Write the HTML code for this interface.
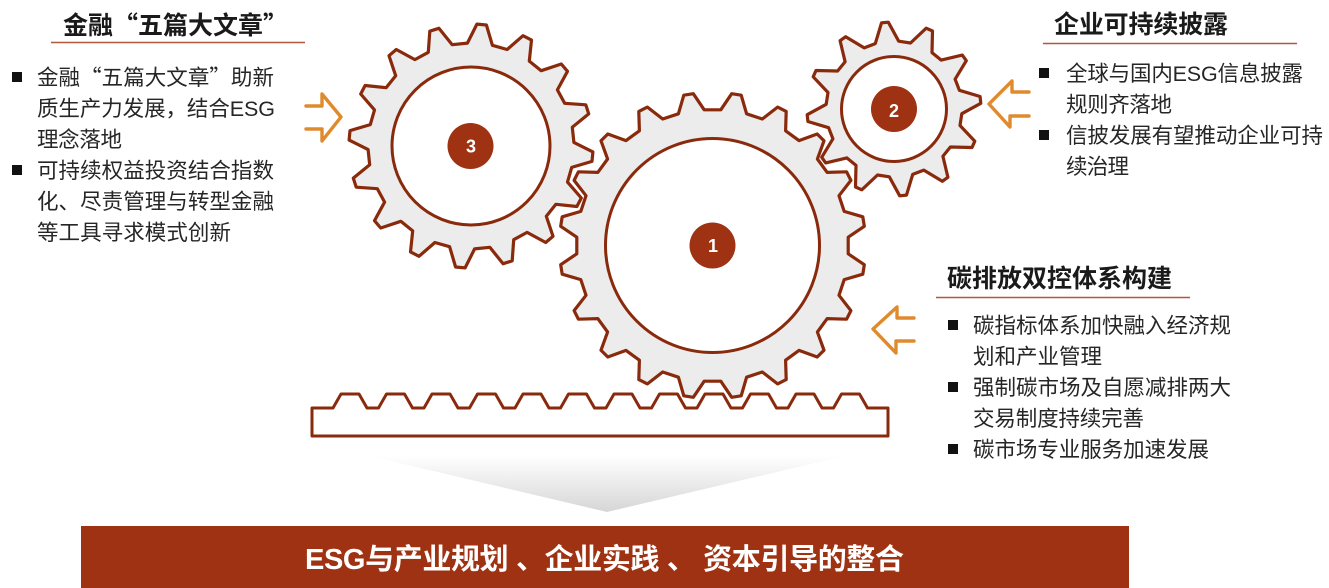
<!DOCTYPE html>
<html lang="zh-CN">
<head>
<meta charset="utf-8">
<style>
html,body{margin:0;padding:0;background:#fff;width:1329px;height:588px;overflow:hidden}
svg{display:block}
text{font-family:"Liberation Sans","Noto Sans CJK SC",sans-serif;fill:#262626;font-size:21.5px}
.q{font-family:"Noto Sans CJK SC","Liberation Sans",sans-serif}
.t{font-size:25px;font-weight:700;fill:#1a1a1a}
.g{fill:#ececec;stroke:#8a2a0c;stroke-width:3.2;stroke-linejoin:round}
.c{fill:#fff;stroke:#8a2a0c;stroke-width:3}
.b{fill:#9e3212}
.n{fill:#fff;font-size:18px;font-weight:700;text-anchor:middle}
.a{fill:none;stroke:#e08a2e;stroke-width:3.4;stroke-linejoin:round;stroke-linecap:round}
.u{stroke:#b5573f;stroke-width:1.6}
.s{fill:#111}
</style>
</head>
<body>
<svg width="1329" height="588" viewBox="0 0 1329 588" xmlns="http://www.w3.org/2000/svg">
<defs>
<linearGradient id="fade" x1="0" y1="0" x2="0" y2="1">
<stop offset="0" stop-color="#ffffff"/>
<stop offset="1" stop-color="#d6d6d6"/>
</linearGradient>
</defs>

<path id="g3" class="g" d=""/>
<path id="g2" class="g" d=""/>
<path id="g1" class="g" d=""/>
<circle class="c" cx="471" cy="146" r="79"/>
<circle class="c" cx="894" cy="109" r="52.5"/>
<circle class="c" cx="712.5" cy="245.5" r="107"/>
<circle class="b" cx="470.5" cy="146" r="23"/>
<circle class="b" cx="894" cy="109" r="23"/>
<circle class="b" cx="712.5" cy="245.5" r="23"/>
<text class="n" x="471" y="152.500">3</text>
<text class="n" x="894" y="117">2</text>
<text class="n" x="713" y="252">1</text>

<path id="rack" d="" fill="#fff" stroke="#8a2a0c" stroke-width="3" stroke-linejoin="round"/>
<polygon points="370,456 845,456 607,512" fill="url(#fade)"/>

<polyline class="a" points="306,106 322,106 322,94 341,117 322,141 322,129 306,129"/>
<polyline class="a" points="1029,92 1012,92 1012,81 989,104 1010,127 1010,116 1029,116"/>
<polyline class="a" points="914,318 897,318 897,307 873,329 896,353 896,341 914,341"/>

<rect x="81" y="526" width="1048" height="62" fill="#9e3212"/>
<text x="305" y="569" textLength="599" style="fill:#fff;font-size:29px;font-weight:700" xml:space="preserve">ESG与产业规划 、企业实践 、 资本引导的整合</text>

<text class="t q" x="63" y="34" textLength="225">金融“五篇大文章”</text>
<line class="u" x1="51" y1="42.500" x2="305" y2="42.500"/>
<rect class="s" x="12" y="72" width="10" height="10"/>
<text class="q" x="37" y="85" textLength="237">金融“五篇大文章”助新</text>
<text x="37" y="116" textLength="238">质生产力发展，结合ESG</text>
<text x="37" y="147" textLength="85">理念落地</text>
<rect class="s" x="12" y="165" width="10" height="10"/>
<text x="37" y="178" textLength="237">可持续权益投资结合指数</text>
<text x="37" y="209" textLength="237">化、尽责管理与转型金融</text>
<text x="37" y="240" textLength="194">等工具寻求模式创新</text>

<text class="t" x="1054" y="33" textLength="174">企业可持续披露</text>
<line class="u" x1="1043" y1="43.500" x2="1297" y2="43.500"/>
<rect class="s" x="1039" y="68" width="10" height="10"/>
<text x="1066" y="81" textLength="237">全球与国内ESG信息披露</text>
<text x="1066" y="112" textLength="106">规则齐落地</text>
<rect class="s" x="1039" y="130" width="10" height="10"/>
<text x="1066" y="143" textLength="257">信披发展有望推动企业可持</text>
<text x="1066" y="174" textLength="63">续治理</text>

<text class="t" x="947" y="287" textLength="225">碳排放双控体系构建</text>
<line class="u" x1="936" y1="297.500" x2="1190" y2="297.500"/>
<rect class="s" x="948" y="320" width="10" height="10"/>
<text x="973" y="333" textLength="258">碳指标体系加快融入经济规</text>
<text x="973" y="364" textLength="129">划和产业管理</text>
<rect class="s" x="948" y="382" width="10" height="10"/>
<text x="973" y="395" textLength="258">强制碳市场及自愿减排两大</text>
<text x="973" y="426" textLength="171">交易制度持续完善</text>
<rect class="s" x="948" y="444" width="10" height="10"/>
<text x="973" y="457" textLength="236">碳市场专业服务加速发展</text>
</svg>
<script>
function gear(id,cx,cy,rRoot,rTip,n,off,base,tip){
  var d='',step=360/n;
  function p(r,a){var t=(a-90)*Math.PI/180;return (cx+r*Math.cos(t)).toFixed(1)+' '+(cy+r*Math.sin(t)).toFixed(1);}
  for(var i=0;i<n;i++){
    var a=off+i*step;
    d+=(i?'L':'M')+p(rRoot,a-base/2)+'L'+p(rTip,a-tip/2)+'L'+p(rTip,a+tip/2)+'L'+p(rRoot,a+base/2);
  }
  document.getElementById(id).setAttribute('d',d+'Z');
}
gear('g1',712.5,245.5,136,153,20,9,11,3.6);
gear('g2',894,109,68,87,12,-6,20,4.5);
gear('g3',471,146,103,122,16,5,14,4.5);
var r='M312 436L312 408L333 408',x=333;
for(var i=0;i<12;i++){
  x=333+i*45.5;
  r+='L'+(x+8)+' 394L'+(x+26)+' 394L'+(x+34)+' 408';
  if(i<11)r+='L'+(x+45.5)+' 408';
}
r+='L888 408L888 436Z';
document.getElementById('rack').setAttribute('d',r);
</script>
</body>
</html>
